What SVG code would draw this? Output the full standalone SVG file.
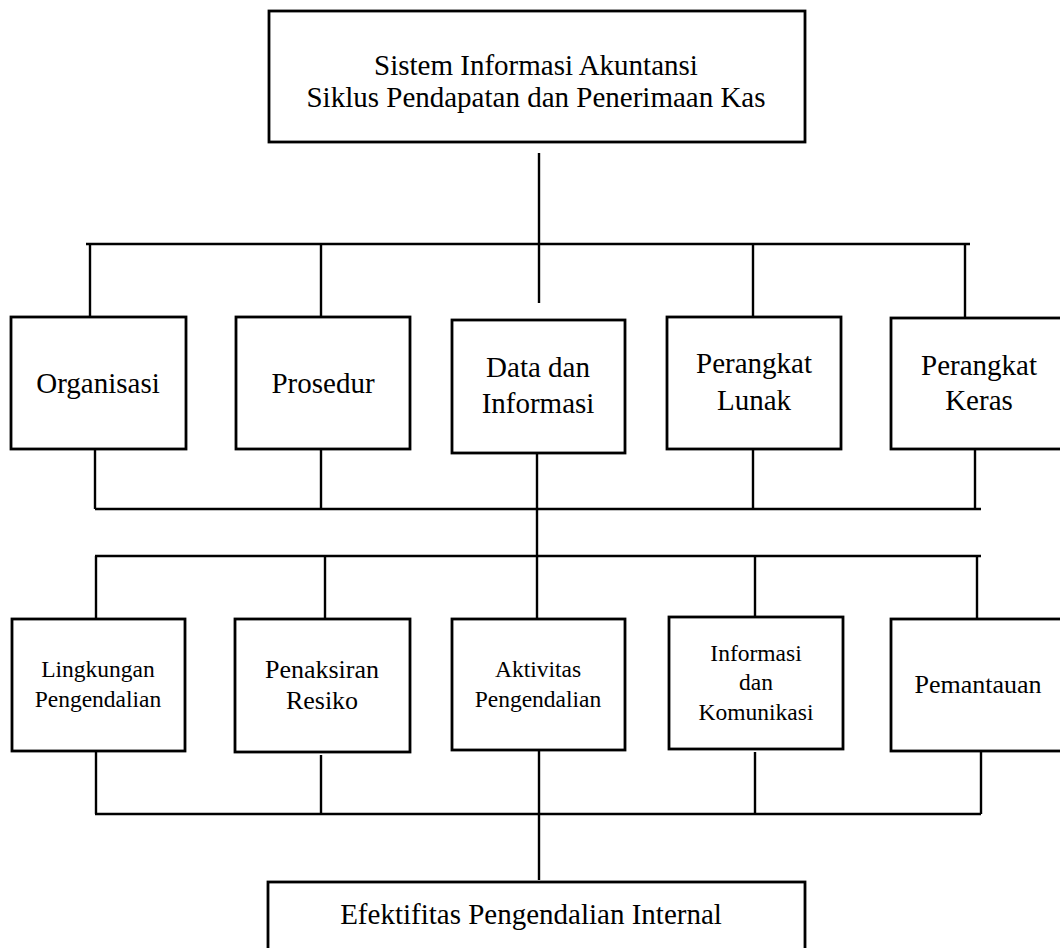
<svg xmlns="http://www.w3.org/2000/svg" width="1060" height="948" viewBox="0 0 1060 948">
  <style>
    .box { fill: #fff; stroke: #000; stroke-width: 2.8; }
    .wire { fill: none; stroke: #000; stroke-width: 2.4; stroke-linecap: butt; }
    text { font-family: "Liberation Serif", "Times New Roman", serif; fill: #000; text-anchor: middle; }
    .t29 { font-size: 29px; }
    .t26 { font-size: 26px; }
    .t24 { font-size: 23.5px; }
  </style>
  <rect width="1060" height="948" fill="#fff"/>

  <!-- connectors -->
  <g id="connectors" class="wire">
    <!-- trunk from the system box down to the first row -->
    <line x1="539" y1="153" x2="539" y2="303"/>
    <!-- upper bus of row 1 -->
    <line x1="86" y1="244" x2="970" y2="244"/>
    <line x1="90" y1="244" x2="90" y2="317"/>
    <line x1="321" y1="244" x2="321" y2="317"/>
    <line x1="753" y1="244" x2="753" y2="317"/>
    <line x1="965" y1="244" x2="965" y2="318"/>
    <!-- lower bus of row 1 -->
    <line x1="95" y1="509" x2="981" y2="509"/>
    <line x1="95" y1="449" x2="95" y2="509"/>
    <line x1="321" y1="449" x2="321" y2="509"/>
    <line x1="753" y1="449" x2="753" y2="509"/>
    <line x1="975" y1="449" x2="975" y2="509"/>
    <!-- trunk between the two rows -->
    <line x1="537" y1="453" x2="537" y2="619"/>
    <!-- upper bus of row 2 -->
    <line x1="95" y1="556" x2="981" y2="556"/>
    <line x1="96" y1="556" x2="96" y2="619"/>
    <line x1="325" y1="556" x2="325" y2="619"/>
    <line x1="755" y1="556" x2="755" y2="617"/>
    <line x1="977" y1="556" x2="977" y2="619"/>
    <!-- lower bus of row 2 -->
    <line x1="95" y1="814" x2="981" y2="814"/>
    <line x1="96" y1="751" x2="96" y2="814"/>
    <line x1="321" y1="755" x2="321" y2="814"/>
    <line x1="755" y1="752" x2="755" y2="814"/>
    <line x1="981" y1="751" x2="981" y2="814"/>
    <!-- trunk down to the result box -->
    <line x1="539" y1="750" x2="539" y2="880"/>
  </g>

  <g id="sia">
    <rect class="box" x="269" y="11" width="536" height="131"/>
    <text class="t29" x="536" y="75">Sistem Informasi Akuntansi</text>
    <text class="t29" x="536" y="107">Siklus Pendapatan dan Penerimaan Kas</text>
  </g>

  <g id="organisasi">
    <rect class="box" x="11" y="317" width="175" height="132"/>
    <text class="t29" x="98" y="393">Organisasi</text>
  </g>
  <g id="prosedur">
    <rect class="box" x="236" y="317" width="174" height="132"/>
    <text class="t29" x="323" y="393">Prosedur</text>
  </g>
  <g id="data-informasi">
    <rect class="box" x="452" y="320" width="173" height="133"/>
    <text class="t29" x="538" y="377">Data dan</text>
    <text class="t29" x="538" y="413">Informasi</text>
  </g>
  <g id="perangkat-lunak">
    <rect class="box" x="667" y="317" width="174" height="132"/>
    <text class="t29" x="754" y="373">Perangkat</text>
    <text class="t29" x="754" y="410">Lunak</text>
  </g>
  <g id="perangkat-keras">
    <rect class="box" x="891" y="318" width="185" height="131"/>
    <text class="t29" x="979" y="375">Perangkat</text>
    <text class="t29" x="979" y="410">Keras</text>
  </g>

  <g id="lingkungan">
    <rect class="box" x="12" y="619" width="173" height="132"/>
    <text class="t24" x="98" y="677">Lingkungan</text>
    <text class="t24" x="98" y="707">Pengendalian</text>
  </g>
  <g id="penaksiran">
    <rect class="box" x="235" y="619" width="175" height="133"/>
    <text class="t26" x="322" y="678">Penaksiran</text>
    <text class="t26" x="322" y="709">Resiko</text>
  </g>
  <g id="aktivitas">
    <rect class="box" x="452" y="619" width="173" height="131"/>
    <text class="t24" x="538" y="677">Aktivitas</text>
    <text class="t24" x="538" y="707">Pengendalian</text>
  </g>
  <g id="informasi-komunikasi">
    <rect class="box" x="669" y="617" width="174" height="132"/>
    <text class="t24" x="756" y="661">Informasi</text>
    <text class="t24" x="756" y="690">dan</text>
    <text class="t24" x="756" y="720">Komunikasi</text>
  </g>
  <g id="pemantauan">
    <rect class="box" x="891" y="619" width="185" height="132"/>
    <text class="t26" x="978" y="693">Pemantauan</text>
  </g>

  <g id="efektifitas">
    <rect class="box" x="268" y="882" width="537" height="80"/>
    <text class="t29" x="531" y="924">Efektifitas Pengendalian Internal</text>
  </g>
</svg>
